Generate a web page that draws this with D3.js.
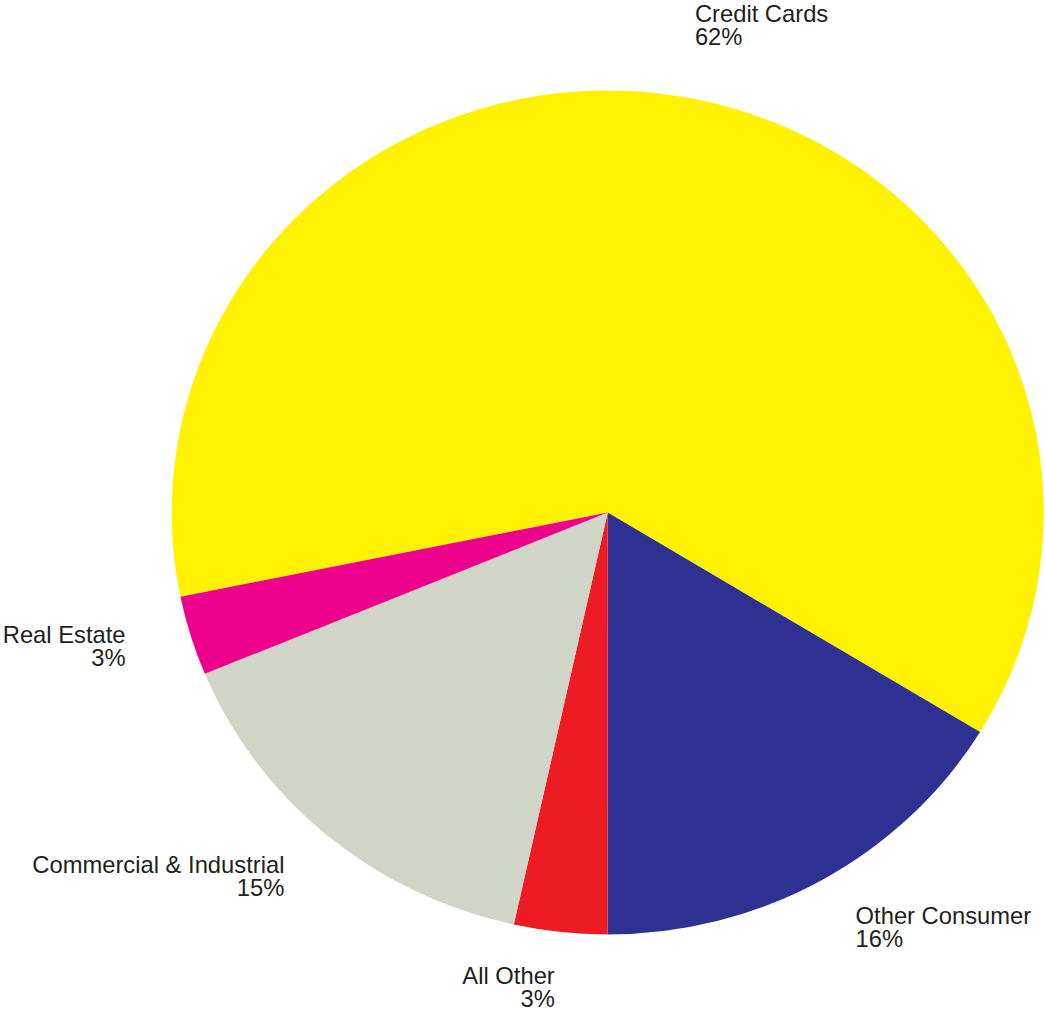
<!DOCTYPE html>
<html>
<head>
<meta charset="utf-8">
<script src="https://cdn.jsdelivr.net/npm/d3@7"></script>
<style>
  html, body { margin: 0; padding: 0; background: #fff; }
  svg { display: block; }
</style>
</head>
<body>
<svg id="chart" width="1045" height="1011"></svg>
<script>
const categories = ["Credit Cards", "Other Consumer", "All Other", "Commercial & Industrial", "Real Estate"];
const values = [61.9, 16.3, 3.45, 15.3, 3.05];
const colors = ["#FFF200", "#2E3192", "#ED1C24", "#D1D5C8", "#EC008C"];

const W = 1045, H = 1011;
const cx = 607.7, cy = 512.5;
const r = 422;
const sx = 436 / 422;            // horizontal stretch of the original
const startDeg = -101.5;

const svg = d3.select("#chart");
const data = categories.map((c, i) => ({ name: c, value: values[i], color: colors[i] }));
const total = d3.sum(values);

const pie = d3.pie()
  .sort(null)
  .value(d => d.value)
  .startAngle(startDeg * Math.PI / 180)
  .endAngle(startDeg * Math.PI / 180 + 2 * Math.PI);

const arcs = pie(data);
const arc = d3.arc().innerRadius(0).outerRadius(r);

const g = svg.append("g").attr("transform", `translate(${cx},${cy}) scale(${sx},1)`);
g.selectAll("path").data(arcs).join("path")
  .attr("d", arc)
  .attr("fill", d => d.data.color);

// labels
const labelR = 490;
const fontSize = 23;
const lineH = 23;
arcs.forEach(a => {
  const mid = (a.startAngle + a.endAngle) / 2;
  const s = Math.sin(mid), c = Math.cos(mid);
  const ax = cx + s * labelR * sx + (s < 0 ? 2 : 0);
  const ay = cy - c * labelR;
  const firstBase = ay - 12 + 4 * c;
  const anchor = s >= 0 ? "start" : "end";
  const lg = svg.append("g").attr("transform", `translate(${ax},${firstBase}) scale(${sx},1)`);
  const t = lg.append("text")
    .attr("text-anchor", anchor)
    .attr("font-family", "'Liberation Sans', Arial, sans-serif")
    .attr("font-size", fontSize)
    .attr("fill", "#231F20");
  t.append("tspan").attr("x", 0).attr("y", 0).text(a.data.name);
  t.append("tspan").attr("x", 0).attr("y", lineH).text(Math.round(a.data.value / total * 100) + "%");
});
</script>
</body>
</html>
